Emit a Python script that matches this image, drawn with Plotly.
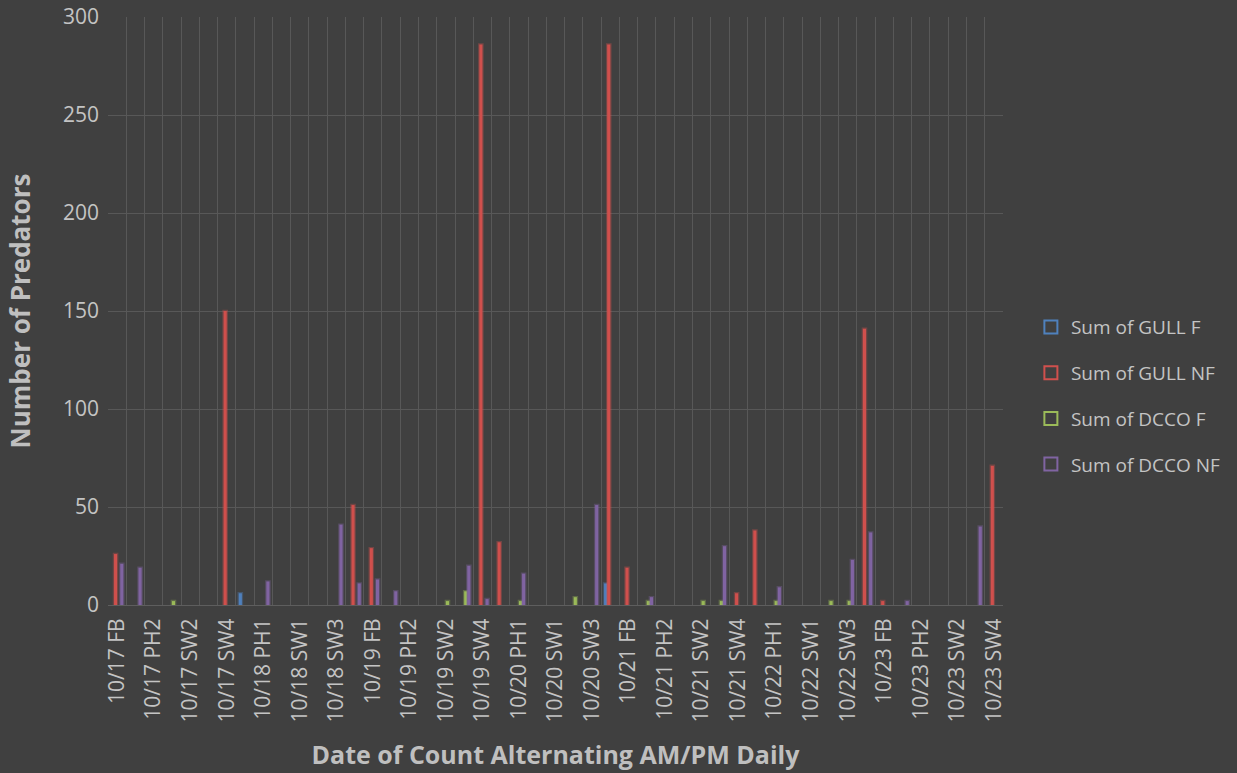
import plotly.graph_objects as go

days = ["10/17", "10/18", "10/19", "10/20", "10/21", "10/22", "10/23"]
sites = ["FB", "PH1", "PH2", "SW1", "SW2", "SW3", "SW4"]
categories = [f"{d} {s}" for d in days for s in sites]

# values per category, one row per day (FB, PH1, PH2, SW1, SW2, SW3, SW4)
gull_f = [
    0, 0, 0, 0, 0, 0, 0,
    6, 0, 0, 0, 0, 0, 0,
    0, 0, 0, 0, 0, 0, 0,
    0, 0, 0, 0, 0, 0, 11,
    0, 0, 0, 0, 0, 0, 0,
    0, 0, 0, 0, 0, 0, 0,
    0, 0, 0, 0, 0, 0, 0,
]
gull_nf = [
    26, 0, 0, 0, 0, 0, 150,
    0, 0, 0, 0, 0, 0, 51,
    29, 0, 0, 0, 0, 0, 286,
    32, 0, 0, 0, 0, 0, 286,
    19, 0, 0, 0, 0, 0, 6,
    38, 0, 0, 0, 0, 0, 141,
    2, 0, 0, 0, 0, 0, 71,
]
dcco_f = [
    0, 0, 0, 2, 0, 0, 0,
    0, 0, 0, 0, 0, 0, 0,
    0, 0, 0, 0, 2, 7, 0,
    0, 2, 0, 0, 4, 0, 0,
    0, 2, 0, 0, 2, 2, 0,
    0, 2, 0, 0, 2, 2, 0,
    0, 0, 0, 0, 0, 0, 0,
]
dcco_nf = [
    21, 19, 0, 0, 0, 0, 0,
    0, 12, 0, 0, 0, 41, 11,
    13, 7, 0, 0, 0, 20, 3,
    0, 16, 0, 0, 0, 51, 0,
    0, 4, 0, 0, 0, 30, 0,
    0, 9, 0, 0, 0, 23, 37,
    0, 2, 0, 0, 0, 40, 0,
]

series_names = ["Sum of GULL F", "Sum of GULL NF", "Sum of DCCO F", "Sum of DCCO NF"]
series_values = [gull_f, gull_nf, dcco_f, dcco_nf]
colors = ["#4F81BD", "#D0504D", "#9BBB59", "#8064A2"]
glows = ["rgba(79,129,189,0.35)", "rgba(208,80,77,0.35)", "rgba(155,187,89,0.35)", "rgba(128,100,162,0.35)"]

tick_text = [c if i % 2 == 0 else "" for i, c in enumerate(categories)]

FONT = "Open Sans"
TXT = "#C4C4C4"

fig = go.Figure()
for name, vals, col, glow in zip(series_names, series_values, colors, glows):
    fig.add_trace(go.Bar(
        x=categories,
        y=[v if v else None for v in vals],
        name=name,
        marker=dict(color=col, line=dict(color=glow, width=2.5)),
        showlegend=False,
    ))
for i, (name, col) in enumerate(zip(series_names, colors)):
    fig.add_trace(go.Scatter(
        x=[None], y=[None], mode="markers", name=name,
        marker=dict(symbol="square-open", size=13, color=col, line=dict(width=2, color=col)),
        legendgroup=f"g{i}", showlegend=True,
    ))

fig.update_layout(
    width=1237, height=773,
    paper_bgcolor="#404040", plot_bgcolor="#404040",
    margin=dict(l=108, r=233, t=17, b=168),
    barmode="group", bargap=0.32, bargroupgap=0,
    font=dict(family=FONT, color=TXT, size=20),
    legend=dict(
        x=1.03, xanchor="left", y=0.356, yanchor="middle",
        traceorder="grouped", tracegroupgap=18,
        font=dict(family=FONT, size=19, color=TXT),
        bgcolor="rgba(0,0,0,0)",
    ),
    xaxis=dict(
        type="category", automargin=False, range=[-0.5, len(categories) - 0.5],
        tickmode="array", tickvals=categories, ticktext=tick_text,
        tickangle=-90, tickson="boundaries", ticks="",
        showgrid=True, gridcolor="#585858", gridwidth=1,
        showline=True, linecolor="#5E5E5E", linewidth=1,
        tickfont=dict(family=FONT, size=21, color=TXT),
        ticklabelstandoff=4,
        title=dict(text="<b>Date of Count Alternating AM/PM Daily</b>",
                   font=dict(family=FONT, size=25, color="#BFBFBF"), standoff=24),
    ),
    yaxis=dict(
        range=[0, 300], dtick=50, tick0=0, automargin=False,
        showgrid=True, gridcolor="#585858", gridwidth=1,
        zeroline=False, ticks="",
        tickfont=dict(family=FONT, size=21, color=TXT),
        ticklabelstandoff=8,
        title=dict(text="<b>Number of Predators</b>",
                   font=dict(family=FONT, size=26, color="#BFBFBF"), standoff=24),
    ),
)

fig.write_html(
    "out.html",
    config={"displayModeBar": False},
    post_script="document.documentElement.style.margin='0';document.body.style.margin='0';"
                "document.body.style.background='#404040';document.body.style.overflow='hidden';",
)
